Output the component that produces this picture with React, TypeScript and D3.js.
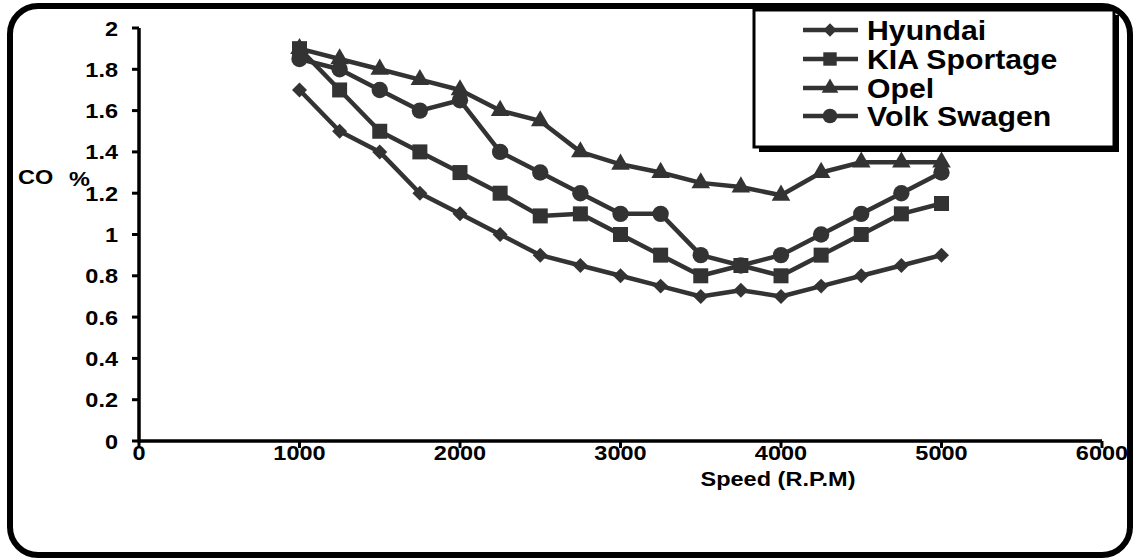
import React, { useEffect, useRef } from 'react';
import * as d3 from 'd3';

const speeds = [1000, 1250, 1500, 1750, 2000, 2250, 2500, 2750, 3000, 3250, 3500, 3750, 4000, 4250, 4500, 4750, 5000];
const hyundai = [1.7, 1.5, 1.4, 1.2, 1.1, 1.0, 0.9, 0.85, 0.8, 0.75, 0.7, 0.73, 0.7, 0.75, 0.8, 0.85, 0.9];
const kia = [1.9, 1.7, 1.5, 1.4, 1.3, 1.2, 1.09, 1.1, 1.0, 0.9, 0.8, 0.85, 0.8, 0.9, 1.0, 1.1, 1.15];
const opel = [1.9, 1.85, 1.8, 1.75, 1.7, 1.6, 1.55, 1.4, 1.34, 1.3, 1.25, 1.23, 1.19, 1.3, 1.35, 1.35, 1.35];
const volk = [1.85, 1.8, 1.7, 1.6, 1.65, 1.4, 1.3, 1.2, 1.1, 1.1, 0.9, 0.85, 0.9, 1.0, 1.1, 1.2, 1.3];
const seriesNames = ['Hyundai', 'KIA Sportage', 'Opel', 'Volk Swagen'];
const xTicks = [0, 1000, 2000, 3000, 4000, 5000, 6000];
const yTicks = [0, 0.2, 0.4, 0.6, 0.8, 1, 1.2, 1.4, 1.6, 1.8, 2];

const W = 1134, H = 560;
const FONT = '"Liberation Sans", Arial, sans-serif';
const INK = '#333333';
const STRETCH = 1.12; // labels in the picture are drawn a little wide

function App() {
  const ref = useRef<SVGSVGElement>(null);

  useEffect(() => {
    const svg = d3.select(ref.current);
    svg.selectAll('*').remove();

    const x = d3.scaleLinear().domain([0, 6000]).range([139, 1102]);
    const y = d3.scaleLinear().domain([0, 2]).range([441, 28]);

    // outer rounded frame
    svg.append('rect')
      .attr('x', 10).attr('y', 6).attr('width', 1120).attr('height', 549)
      .attr('rx', 28).attr('fill', 'white')
      .attr('stroke', 'black').attr('stroke-width', 6);

    const addText = (g: any, tx: number, ty: number, txt: string, size: number, anchor: string) => {
      g.append('g')
        .attr('transform', `translate(${tx},${ty}) scale(${STRETCH},1)`)
        .append('text')
        .attr('text-anchor', anchor)
        .attr('font-family', FONT)
        .attr('font-weight', 'bold')
        .attr('font-size', size)
        .attr('fill', 'black')
        .text(txt);
    };

    // axes
    const ax = svg.append('g');
    ax.append('line').attr('x1', x(0)).attr('x2', x(6000)).attr('y1', y(0)).attr('y2', y(0))
      .attr('stroke', 'black').attr('stroke-width', 3.5);
    ax.append('line').attr('x1', x(0)).attr('x2', x(0)).attr('y1', y(0) + 1.5).attr('y2', y(2))
      .attr('stroke', 'black').attr('stroke-width', 3.5);

    xTicks.forEach(t => {
      ax.append('line').attr('x1', x(t)).attr('x2', x(t)).attr('y1', y(0)).attr('y2', y(0) + 7)
        .attr('stroke', 'black').attr('stroke-width', 3);
      addText(ax, x(t), 460, String(t), 21, 'middle');
    });
    yTicks.forEach(t => {
      ax.append('line').attr('x1', x(0) - 7).attr('x2', x(0)).attr('y1', y(t)).attr('y2', y(t))
        .attr('stroke', 'black').attr('stroke-width', 3);
      addText(ax, 118, y(t) + 7.5, d3.format('~g')(t), 21, 'end');
    });

    addText(ax, 778, 486, 'Speed (R.P.M)', 21, 'middle');
    addText(ax, 18, 184, 'CO', 21, 'start');
    addText(ax, 69, 186, '%', 21, 'start');

    const symbols = [
      { type: d3.symbolSquare, size: 112, rotate: 45 },
      { type: d3.symbolSquare, size: 225, rotate: 0 },
      { type: d3.symbolTriangle, size: 150, rotate: 0 },
      { type: d3.symbolCircle, size: 210, rotate: 0 },
    ];
    const allSeries = [hyundai, kia, opel, volk];

    const line = d3.line<number>()
      .x((_, i) => x(speeds[i]))
      .y(d => y(d));

    const plot = svg.append('g');
    allSeries.forEach(vals => {
      plot.append('path').datum(vals)
        .attr('d', line)
        .attr('fill', 'none')
        .attr('stroke', INK)
        .attr('stroke-width', 4.5)
        .attr('stroke-linejoin', 'round');
    });
    allSeries.forEach((vals, s) => {
      const sym = symbols[s];
      plot.selectAll(null).data(vals).enter().append('path')
        .attr('d', d3.symbol().type(sym.type).size(sym.size)())
        .attr('transform', (d, i) => `translate(${x(speeds[i])},${y(d)}) rotate(${sym.rotate})`)
        .attr('fill', INK);
    });

    // legend with shadow
    const lg = svg.append('g');
    lg.append('rect').attr('x', 759).attr('y', 15).attr('width', 360).attr('height', 137).attr('fill', 'black');
    lg.append('rect').attr('x', 754).attr('y', 10).attr('width', 360).attr('height', 137)
      .attr('fill', 'white').attr('stroke', 'black').attr('stroke-width', 3);

    const rows = [30, 59, 88, 116];
    seriesNames.forEach((name, s) => {
      const sym = symbols[s];
      lg.append('line').attr('x1', 803).attr('x2', 858).attr('y1', rows[s]).attr('y2', rows[s])
        .attr('stroke', INK).attr('stroke-width', 4.5);
      lg.append('path')
        .attr('d', d3.symbol().type(sym.type).size(sym.size * 0.8)())
        .attr('transform', `translate(830,${rows[s]}) rotate(${sym.rotate})`)
        .attr('fill', INK);
      addText(lg, 867, rows[s] + 9.5, name, 27, 'start');
    });
  }, []);

  return (
    <div style={{ position: 'absolute', left: 0, top: 0 }}>
      <svg ref={ref} width={W} height={H} style={{ display: 'block', background: 'white' }} />
    </div>
  );
}

export default App;
